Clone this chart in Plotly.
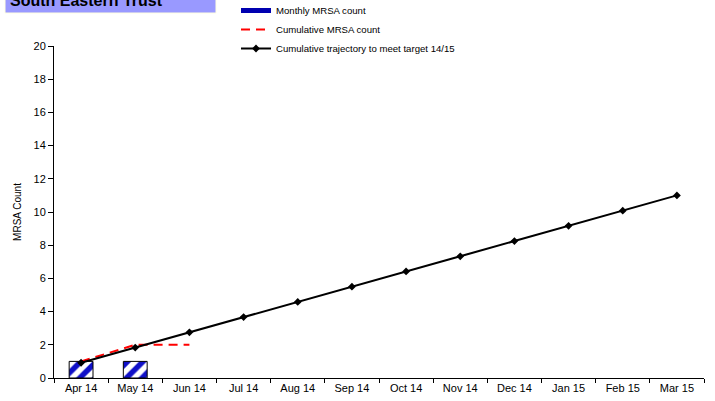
import plotly.graph_objects as go

months = ["Apr 14", "May 14", "Jun 14", "Jul 14", "Aug 14", "Sep 14",
          "Oct 14", "Nov 14", "Dec 14", "Jan 15", "Feb 15", "Mar 15"]
monthly_count = [1, 1]
cumulative_count = [1, 2, 2]
trajectory = [0.92, 1.83, 2.75, 3.67, 4.58, 5.5, 6.42, 7.33, 8.25, 9.17, 10.08, 11]

fig = go.Figure()
fig.add_trace(go.Bar(
    x=months[:len(monthly_count)], y=monthly_count, name="Monthly MRSA count",
    width=0.44, showlegend=False,
    marker=dict(color="white", line=dict(color="black", width=1),
                pattern=dict(shape="/", fgcolor="#1010C8", bgcolor="white",
                             size=11, solidity=0.5, fillmode="replace")),
))
# Legend key for the bars: a solid blue strip
fig.add_trace(go.Scatter(
    x=[None], y=[None], name="Monthly MRSA count", mode="lines",
    line=dict(color="#0000B0", width=5),
))
fig.add_trace(go.Scatter(
    x=months[:len(cumulative_count)], y=cumulative_count, name="Cumulative MRSA count",
    mode="lines", line=dict(color="#FF0000", width=2, dash="9px,6px"),
))
fig.add_trace(go.Scatter(
    x=months, y=trajectory, name="Cumulative trajectory to meet target 14/15",
    mode="lines+markers", line=dict(color="black", width=2),
    marker=dict(symbol="diamond", size=6, color="black"),
))

# Title banner in the top-left corner
fig.add_shape(type="rect", xref="paper", yref="paper",
              x0=(5 - 54) / 650, x1=(216 - 54) / 650,
              y0=(378 - 13) / 332, y1=(378 + 20) / 332,
              fillcolor="#9999FF", line=dict(color="#FFFFE0", width=1), layer="above")
fig.add_annotation(text="<b>South Eastern Trust</b>", xref="paper", yref="paper",
                   x=(8 - 54) / 650, y=(378 + 0) / 332, xanchor="left", yanchor="middle",
                   showarrow=False, font=dict(size=16, color="black", family="Arial"))

fig.update_layout(
    width=715, height=401,
    margin=dict(l=54, r=11, t=46, b=23, autoexpand=False),
    paper_bgcolor="white", plot_bgcolor="white",
    font=dict(family="Arial", size=11, color="black"),
    showlegend=True,
    legend=dict(x=(236 - 54) / 650, y=(378 + 4) / 332, xanchor="left", yanchor="top",
                font=dict(size=9.6), bgcolor="rgba(0,0,0,0)", tracegroupgap=0,
                itemwidth=30),
    bargap=0.56,
)
fig.update_xaxes(showline=True, linecolor="black", linewidth=1, ticks="outside",
                 ticklen=4, tickcolor="black", tickson="boundaries", showgrid=False,
                 range=[-0.5, 11.5], tickfont=dict(size=11))
fig.update_yaxes(range=[0, 20], dtick=2, showline=True, linecolor="black", linewidth=1,
                 ticks="outside", ticklen=5, tickcolor="black", showgrid=False,
                 zeroline=False, title=dict(text="MRSA Count", font=dict(size=10), standoff=10),
                 tickfont=dict(size=11))

fig.write_html("out.html")
